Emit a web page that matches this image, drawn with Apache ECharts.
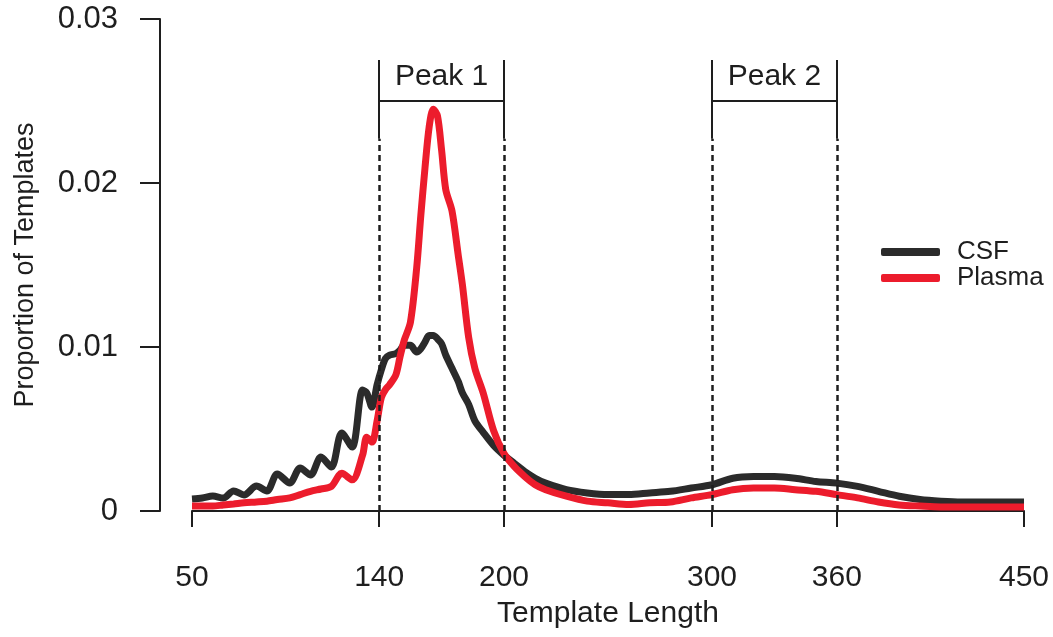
<!DOCTYPE html>
<html>
<head>
<meta charset="utf-8">
<style>
  html, body { margin: 0; padding: 0; background: #fff; }
  #chart { width: 1053px; height: 637px; }
</style>
<script src="https://cdn.jsdelivr.net/npm/echarts@6/dist/echarts.min.js"></script>
</head>
<body>
<div id="chart"></div>
<script>
// template lengths sampled along the curves
var lengths = [50, 55, 60, 65, 70, 75, 81, 86, 91, 97, 102, 107, 112, 117, 122, 127, 132, 134, 136.5, 139,
  141, 143, 145, 148, 150, 152, 155, 158, 160, 162, 164, 166, 168, 170, 172, 175, 178, 180, 183, 186,
  190, 195, 200, 205, 210, 215, 220, 230, 240, 250, 260, 270, 280, 290, 300, 310, 320, 330, 340, 350,
  360, 370, 380, 390, 400, 410, 420, 430, 440, 450];

var csf = [0.00073, 0.00079, 0.00091, 0.00079, 0.00122, 0.00098, 0.00152, 0.00122, 0.00226, 0.00171,
  0.00262, 0.00220, 0.00329, 0.00268, 0.00476, 0.00390, 0.00738, 0.0072, 0.00634, 0.0077,
  0.0086, 0.0093, 0.0095, 0.0096, 0.0098, 0.0101, 0.0101, 0.0097, 0.0099, 0.0103,
  0.0107, 0.0107, 0.0105, 0.0102, 0.0095, 0.0087, 0.0079, 0.0072, 0.0065, 0.0055,
  0.0048, 0.0040, 0.0034, 0.0029, 0.0024, 0.0020, 0.0017, 0.0013, 0.0011, 0.0010,
  0.0010, 0.0011, 0.0012, 0.0014, 0.0016, 0.0020, 0.0021, 0.0021, 0.0020, 0.0018,
  0.0017, 0.0015, 0.0012, 0.0009, 0.0007, 0.0006, 0.00055, 0.00055, 0.00055, 0.00055];

var plasma = [0.0003, 0.0003, 0.0003, 0.00037, 0.00043, 0.0005, 0.00055, 0.0006, 0.0007, 0.0008,
  0.0010, 0.0012, 0.00134, 0.0015, 0.0023, 0.0019, 0.0034, 0.0045, 0.0042, 0.0055,
  0.0069, 0.0074, 0.0077, 0.0083, 0.0094, 0.0104, 0.0115, 0.0148, 0.0180, 0.0209,
  0.0234, 0.0245, 0.0241, 0.0220, 0.0196, 0.0183, 0.0156, 0.0138, 0.0106, 0.0087,
  0.0072, 0.0049, 0.0035, 0.0027, 0.0021, 0.0016, 0.0013, 0.0009, 0.0006, 0.0005,
  0.0004, 0.0005, 0.00055, 0.0008, 0.0010, 0.0013, 0.0014, 0.0014, 0.0013, 0.0012,
  0.0010, 0.0008, 0.00055, 0.00037, 0.0003, 0.00025, 0.00025, 0.00025, 0.00025, 0.00025];

var xTicks = [50, 140, 200, 300, 360, 450];

// peak windows
var peakNames = ['Peak 1', 'Peak 2'];
var peakStart = [140, 300];
var peakEnd = [200, 360];
var dashTop = 0.0227, barLevel = 0.025, bracketTop = 0.0275, labelLevel = 0.0265;

var ink = '#1e1e1e';
var font = 'Liberation Sans, Arial, Helvetica, sans-serif';

function pairs(ys) {
  return lengths.map(function(x, i) { return [x, ys[i]]; });
}

var marks = [];
var labels = [];
for (var i = 0; i < peakNames.length; i++) {
  [peakStart[i], peakEnd[i]].forEach(function(x) {
    marks.push([{ coord: [x, 0], lineStyle: { type: [6, 4], width: 2.5, color: ink } }, { coord: [x, dashTop] }]);
    marks.push([{ coord: [x, dashTop], lineStyle: { type: 'solid', width: 2, color: ink } }, { coord: [x, bracketTop] }]);
  });
  marks.push([{ coord: [peakStart[i], barLevel], lineStyle: { type: 'solid', width: 2, color: ink } }, { coord: [peakEnd[i], barLevel] }]);
  labels.push({ coord: [(peakStart[i] + peakEnd[i]) / 2, labelLevel], value: peakNames[i] });
}

var chart = echarts.init(document.getElementById('chart'), null, { renderer: 'canvas' });
chart.setOption({
  animation: false,
  textStyle: { fontFamily: font },
  grid: { left: 192, right: 29, top: 19, bottom: 126 },
  legend: {
    data: ['CSF', 'Plasma'],
    orient: 'vertical',
    left: 876,
    top: 234,
    icon: 'roundRect',
    itemWidth: 59,
    itemHeight: 8,
    itemGap: 0,
    textStyle: { fontSize: 26, color: ink, lineHeight: 26, padding: [0, 0, 0, 12], fontFamily: font }
  },
  xAxis: {
    type: 'value',
    min: 50,
    max: 450,
    offset: 20,
    name: 'Template Length',
    nameLocation: 'middle',
    nameGap: 68,
    nameTextStyle: { fontSize: 30, color: ink, fontFamily: font },
    axisLine: { lineStyle: { color: ink, width: 2 } },
    axisTick: { customValues: xTicks, length: 16, lineStyle: { color: ink, width: 2 } },
    axisLabel: { customValues: xTicks, fontSize: 30, color: ink, margin: 32, fontFamily: font },
    splitLine: { show: false }
  },
  yAxis: {
    type: 'value',
    min: 0,
    max: 0.03,
    interval: 0.01,
    offset: 32,
    name: 'Proportion of Templates',
    nameLocation: 'middle',
    nameGap: 121,
    nameTextStyle: { fontSize: 27, color: ink, fontFamily: font },
    axisLine: { show: true, lineStyle: { color: ink, width: 2 } },
    axisTick: { show: true, length: 20, lineStyle: { color: ink, width: 2 } },
    axisLabel: { fontSize: 31, color: ink, margin: 42, fontFamily: font },
    splitLine: { show: false }
  },
  series: [
    {
      name: 'CSF',
      type: 'line',
      data: pairs(csf),
      showSymbol: false,
      smooth: 0.3,
      color: '#2b2b2b',
      lineStyle: { width: 7, color: '#2b2b2b' }
    },
    {
      name: 'Plasma',
      type: 'line',
      data: pairs(plasma),
      showSymbol: false,
      smooth: 0.3,
      color: '#ec1c2c',
      lineStyle: { width: 7, color: '#ec1c2c' }
    },
    {
      name: 'peaks',
      type: 'line',
      data: [],
      markLine: {
        silent: true,
        symbol: ['none', 'none'],
        label: { show: false },
        data: marks
      },
      markPoint: {
        silent: true,
        symbol: 'circle',
        symbolSize: 1,
        itemStyle: { color: 'rgba(0,0,0,0)' },
        label: { show: true, position: 'inside', fontSize: 30, color: ink, fontFamily: font, formatter: '{c}' },
        data: labels
      }
    }
  ]
});
window.addEventListener('resize', function() { chart.resize(); });
</script>
</body>
</html>
